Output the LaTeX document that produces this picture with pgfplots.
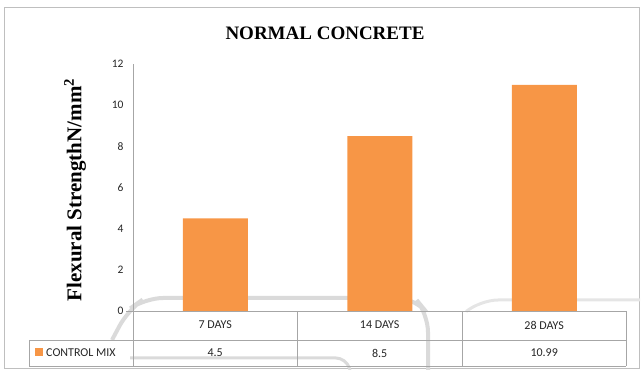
\documentclass[border=0pt]{standalone}
\usepackage{fontspec}
\setmainfont{Liberation Serif}
\newfontfamily\calib{Carlito}
\usepackage{pgfplots}
\pgfplotsset{compat=1.18}
\definecolor{barorange}{HTML}{F79646}
\definecolor{gridgray}{HTML}{A6A6A6}
\definecolor{framegray}{HTML}{BFBFBF}
\definecolor{wm}{HTML}{DADADA}
\begin{document}
\begin{tikzpicture}
\begin{scope}[x=1pt,y=1pt]
\path[use as bounding box] (0,0) rectangle (641,370);
% outer frame
\draw[framegray, line width=1pt] (4.5,1) rectangle (639,362.5);
% faint watermark shapes
\draw[wm, line width=4pt, rounded corners=18pt] (112,30) -- (128,60) -- (145,72) -- (415,72) -- (428,56) -- (428,0);
\draw[wm, line width=3pt, rounded corners=10pt] (130,12) -- (346,12) -- (350,0);
\draw[wm!70, line width=3pt, rounded corners=18pt] (468,60) -- (480,70) -- (640,70);
\end{scope}
\begin{axis}[
  at={(133pt,59pt)}, anchor=south west,
  scale only axis, width=493.5pt, height=247pt,
  xmin=-0.5, xmax=2.5, ymin=0, ymax=12,
  ytick={0,2,4,6,8,10,12},
  xtick=\empty,
  axis x line=none,
  axis y line*=left,
  y axis line style={draw=gridgray, line width=0.8pt, -},
  major tick length=0pt,
  /pgf/number format/assume math mode=true,
  yticklabel style={font=\calib\fontsize{11.5}{13}\selectfont, text=black!85, xshift=-6pt},
  ybar, bar width=65pt,
  clip=false,
]
\addplot[fill=barorange, draw=none] coordinates {(0,4.5) (1,8.5) (2,10.99)};
\end{axis}
\begin{scope}[x=1pt,y=1pt]
% data table
\begin{scope}[gridgray, line width=0.8pt]
\draw (126,59) -- (626,59);
\draw (29,30) -- (626,30);
\draw (29,4) -- (626,4);
\draw (133,59) -- (133,4);
\draw (297.5,59) -- (297.5,4);
\draw (462,59) -- (462,4);
\draw (626,59) -- (626,4);
\draw (29,30) -- (29,4);
\end{scope}
\begin{scope}[font=\calib\fontsize{12}{14}\selectfont, text=black!85]
\node at (215.2,45) {7 DAYS};
\node at (379.7,45) {14 DAYS};
\node at (544.2,45) {28 DAYS};
\node at (215.2,17) {4.5};
\node at (379.7,17) {8.5};
\node at (544.2,17) {10.99};
\fill[barorange] (35,13.5) rectangle (43,21.5);
\node[anchor=west, inner sep=0pt] at (46,17) {CONTROL MIX};
\end{scope}
% title and y label
\node at (325,337) {\fontsize{19}{21}\selectfont\bfseries NORMAL CONCRETE};
\node[rotate=90] at (75,180) {\fontsize{21}{23}\selectfont\bfseries Flexural StrengthN/mm$^{\mathbf{2}}$};
\end{scope}
\end{tikzpicture}
\end{document}
